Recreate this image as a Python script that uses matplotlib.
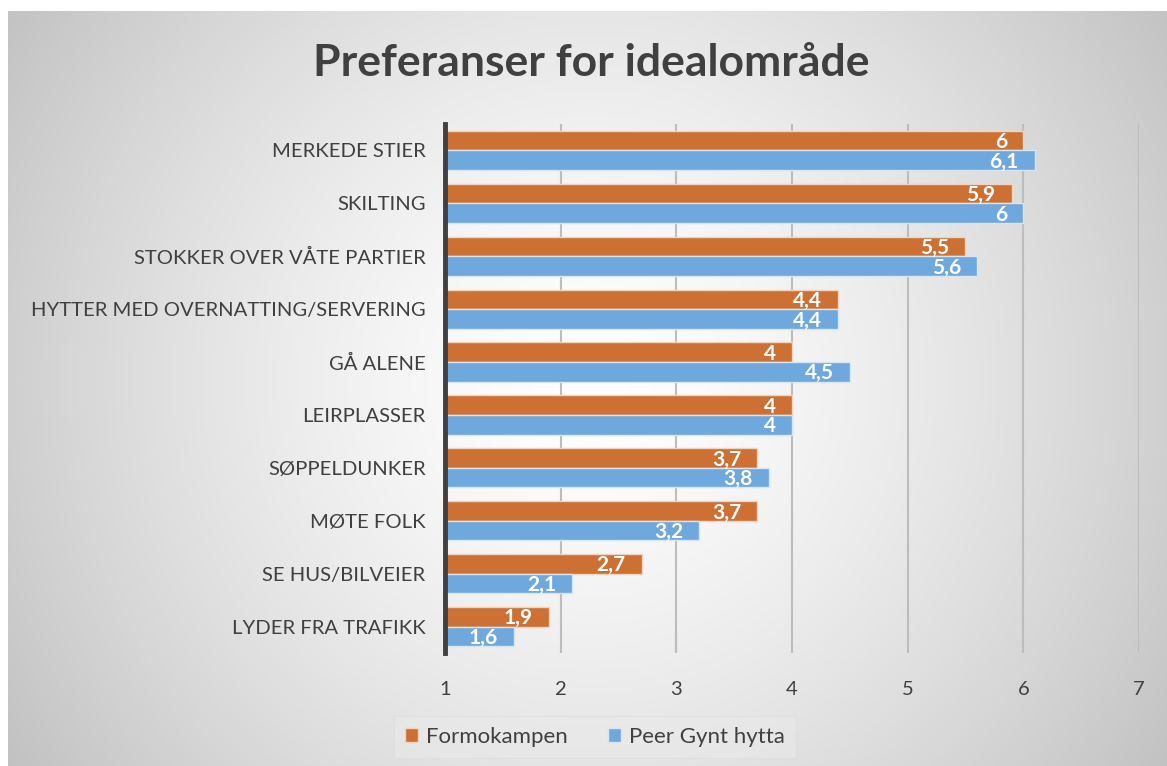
import numpy as np
import matplotlib
matplotlib.use("Agg")
import matplotlib.pyplot as plt
from matplotlib.patches import Patch

categories = ["MERKEDE STIER", "SKILTING", "STOKKER OVER VÅTE PARTIER",
              "HYTTER MED OVERNATTING/SERVERING", "GÅ ALENE", "LEIRPLASSER",
              "SØPPELDUNKER", "MØTE FOLK", "SE HUS/BILVEIER", "LYDER FRA TRAFIKK"]
formokampen = [6, 5.9, 5.5, 4.4, 4, 4, 3.7, 3.7, 2.7, 1.9]
peer_gynt = [6.1, 6, 5.6, 4.4, 4.5, 4, 3.8, 3.2, 2.1, 1.6]
series_names = ["Formokampen", "Peer Gynt hytta"]
xticks = [1, 2, 3, 4, 5, 6, 7]

plt.rcParams['font.family'] = ['Lato', 'DejaVu Sans']

W, H = 1167, 766
fig = plt.figure(figsize=(W / 100, H / 100), dpi=100)
fig.patch.set_facecolor('white')

# radial gradient background
x0, y0 = 8, 11
bg = fig.add_axes([x0 / W, 0, 1 - x0 / W, 1 - y0 / H], zorder=-10)
gx = np.arange(x0, W)
gy = np.arange(y0, H)
GX, GY = np.meshgrid(gx, gy)
cx, cy = 590, 380
d = np.sqrt((GX - cx) ** 2 + (GY - cy) ** 2) / np.sqrt(590 ** 2 + 380 ** 2)
val = (255 - 62 * np.clip(d, 0, 1.2) ** 1.4) / 255
img = np.dstack([val, val, val])
bg.imshow(img, aspect='auto', extent=[0, 1, 0, 1], interpolation='bilinear')
bg.set_axis_off()

ax = fig.add_axes([445 / W, 1 - 653 / H, (1139 - 445) / W, (653 - 124) / H])
ax.set_facecolor('none')

n = len(categories)
ypos = np.arange(n)
h = 0.37
orange = '#CC7034'
blue = '#6FA8DC'

fv = np.array(formokampen)
pv = np.array(peer_gynt)
ax.barh(ypos - h / 2, fv - 1, left=1, height=h, color=orange,
        edgecolor='#F2D3BE', linewidth=1.0, zorder=3)
ax.barh(ypos + h / 2, pv - 1, left=1, height=h, color=blue,
        edgecolor='#D6E6F5', linewidth=1.0, zorder=3)

def fmt(v):
    return ('%g' % v).replace('.', ',')

for y, v in zip(ypos - h / 2, fv):
    ax.text(v - 0.14, y + 0.03, fmt(v), ha='right', va='center', color='white',
            fontsize=15, fontweight='bold', zorder=4)
for y, v in zip(ypos + h / 2, pv):
    ax.text(v - 0.14, y + 0.03, fmt(v), ha='right', va='center', color='white',
            fontsize=15, fontweight='bold', zorder=4)

ax.set_xlim(1, 7)
ax.set_ylim(n - 0.5, -0.5)
ax.set_xticks(xticks)
ax.set_xticklabels([str(t) for t in xticks])
ax.set_yticks(ypos)
ax.set_yticklabels(categories)
ax.tick_params(axis='x', length=0, pad=20, labelsize=14.5, labelcolor='#404040')
ax.tick_params(axis='y', length=0, pad=14, labelsize=14.6, labelcolor='#404040')
ax.grid(axis='x', color='#BDBDBD', linewidth=1.5, zorder=0)
ax.set_axisbelow(True)
for s in ['top', 'right', 'bottom']:
    ax.spines[s].set_visible(False)
ax.spines['left'].set_color('#404040')
ax.spines['left'].set_linewidth(3.5)
ax.spines['left'].set_zorder(5)

fig.text(591 / W, 1 - 63 / H, "Preferanser for idealområde", ha='center', va='center',
         fontsize=32, fontweight='bold', color='#404040')

handles = [Patch(facecolor=orange, edgecolor='#F2D3BE', label=series_names[0]),
           Patch(facecolor=blue, edgecolor='#D6E6F5', label=series_names[1])]
leg = fig.legend(handles=handles, loc='center', bbox_to_anchor=(595 / W, 1 - 737 / H),
                 ncol=2, frameon=True, fontsize=16, handlelength=0.6, handleheight=0.6,
                 handletextpad=0.35, columnspacing=1.8, borderpad=0.5)
leg.get_frame().set_facecolor('#EAEAEA')
leg.get_frame().set_edgecolor('#DCDCDC')
leg.get_frame().set_alpha(0.5)
leg.get_frame().set_boxstyle('square', pad=0.0)
for t in leg.get_texts():
    t.set_color('#404040')

fig.savefig('out.png', dpi=100)
